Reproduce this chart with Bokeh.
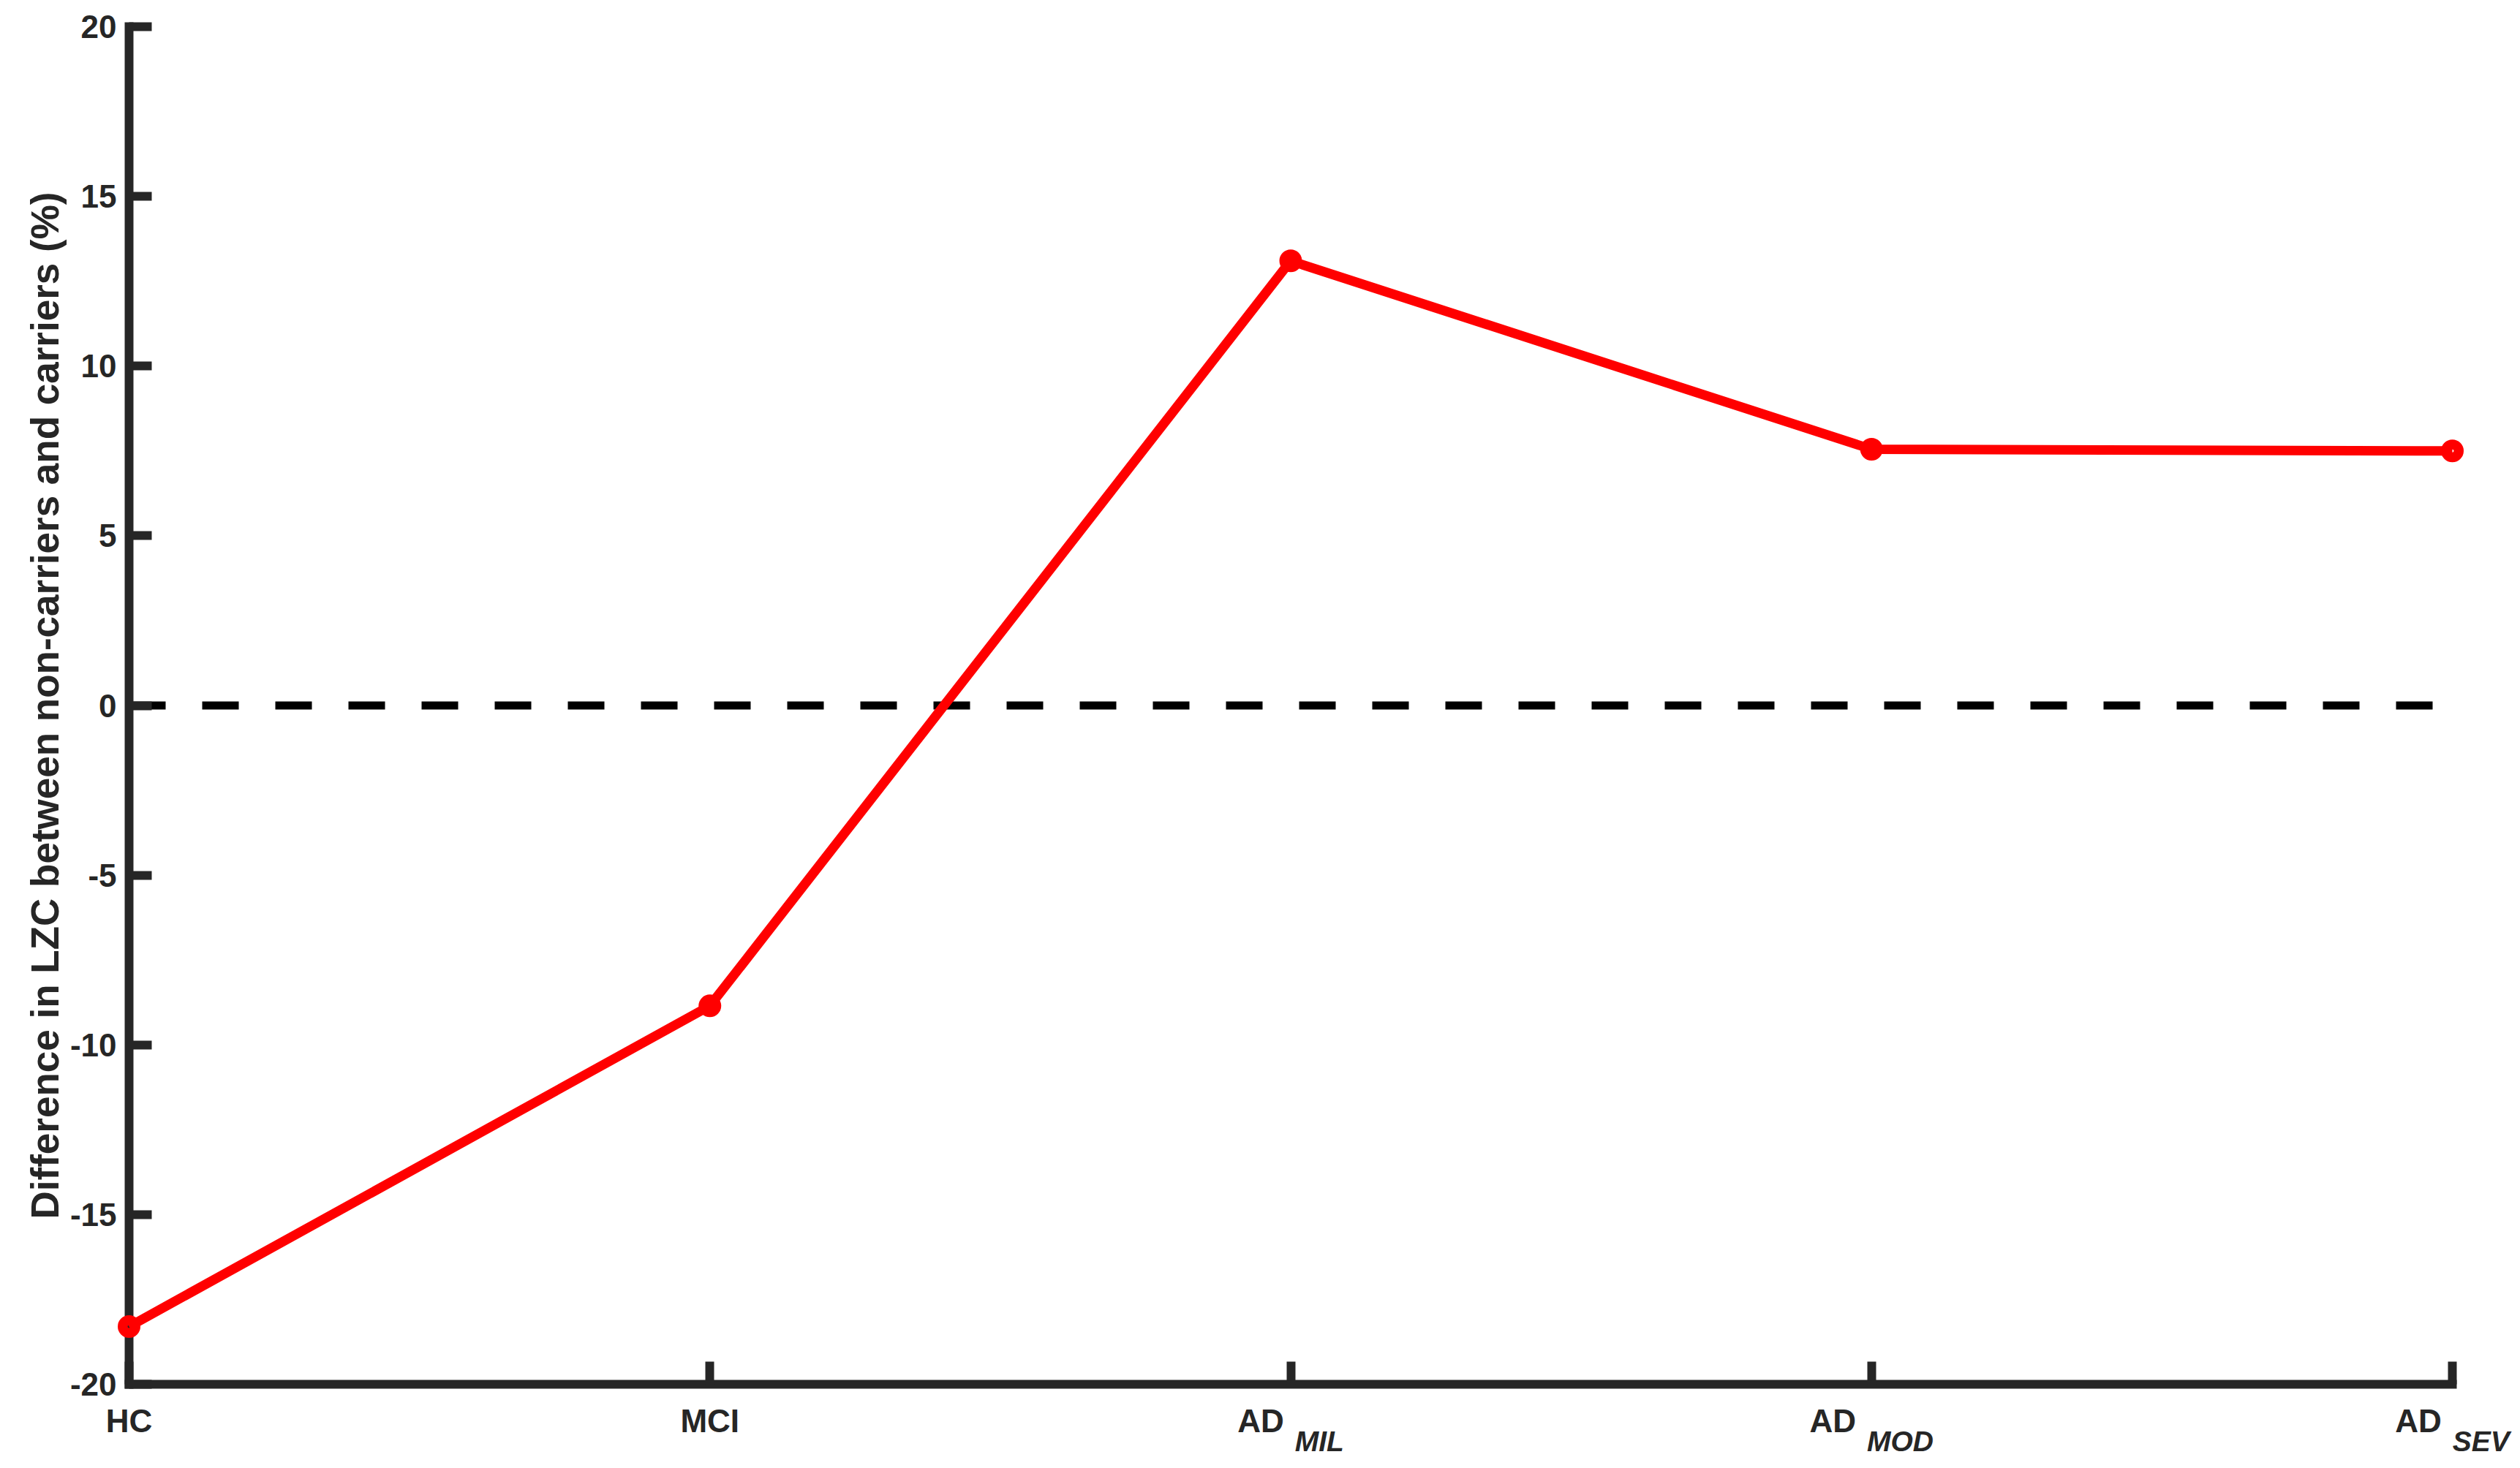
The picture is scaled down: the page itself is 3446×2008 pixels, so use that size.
from bokeh.plotting import figure
from bokeh.models import Range1d, FixedTicker, LinearAxis, ColumnDataSource
from bokeh.embed import file_html
from bokeh.resources import INLINE

# ---- data ----
groups = ["HC", "MCI", "AD_MIL", "AD_MOD", "AD_SEV"]
label_main = ["HC", "MCI", "AD", "AD", "AD"]
label_sub = ["", "", "MIL", "MOD", "SEV"]
diff_pct = [-18.3, -8.85, 13.1, 7.55, 7.5]
y_ticks = [-20, -15, -10, -5, 0, 5, 10, 15, 20]
zero_level = 0
y_label = "Difference in LZC between non-carriers and carriers (%)"

AX = "#262626"
RED = "#FF0000"
FONT = "Liberation Sans"

W_FIG, H_FIG = 3446, 2008
B_LEFT, B_RIGHT, B_TOP, B_BOTTOM = 176, 10, 36, 115
FRAME_W = W_FIG - B_LEFT - B_RIGHT
DATA_W = 3177  # pixel span from first to last category
PAD_PX = FRAME_W - DATA_W

xs = list(range(len(groups)))
span_x = xs[-1] - xs[0]
UNIT_PX = DATA_W / span_x
src = ColumnDataSource(dict(x=xs, y=diff_pct))

p = figure(width=W_FIG, height=H_FIG, output_backend="svg", toolbar_location=None,
           x_range=Range1d(xs[0], xs[-1] + PAD_PX / UNIT_PX),
           y_range=Range1d(y_ticks[0], y_ticks[-1]),
           min_border_left=B_LEFT, min_border_right=B_RIGHT,
           min_border_top=B_TOP, min_border_bottom=B_BOTTOM)
p.outline_line_color = None
p.xgrid.visible = False
p.ygrid.visible = False

for ax in (p.xaxis[0], p.yaxis[0]):
    ax.axis_line_color = AX
    ax.axis_line_width = 12
    ax.axis_line_cap = "square"
    ax.major_tick_line_color = AX
    ax.major_tick_line_width = 12
    ax.major_tick_in = 31
    ax.major_tick_out = 0
    ax.minor_tick_line_color = None
    ax.major_label_text_font = FONT
    ax.major_label_text_font_style = "bold"
    ax.major_label_text_font_size = "44px"
    ax.major_label_text_color = AX

p.yaxis.ticker = FixedTicker(ticks=y_ticks)
p.yaxis.major_label_overrides = {v: str(v) for v in y_ticks}
p.yaxis.major_label_standoff = 17
p.yaxis.axis_label = y_label
p.yaxis.axis_label_text_font = FONT
p.yaxis.axis_label_text_font_style = "bold"
p.yaxis.axis_label_text_font_size = "53px"
p.yaxis.axis_label_text_color = AX
p.yaxis.axis_label_standoff = 2

# bottom axis: line and ticks only, ending at the last category
p.xaxis.bounds = (xs[0], xs[-1])
p.xaxis.ticker = FixedTicker(ticks=xs)
p.xaxis.major_label_overrides = {i: "" for i in xs}
p.xaxis.major_label_text_font_size = "0px"
p.xaxis.major_label_standoff = 0

# zero reference line across the categories
p.line(x=[xs[0], xs[-1]], y=[zero_level, zero_level], line_color="black",
       line_width=11, line_dash="50 50", line_cap="butt")

p.line("x", "y", source=src, line_color=RED, line_width=13, level="overlay")
p.scatter("x", "y", source=src, size=17.5, line_width=13.5, line_color=RED,
          fill_color=None, marker="circle", level="overlay")

# ---- category labels with subscripts (two label rows as extra axes) ----
W = {"A": 0.722, "D": 0.722, "H": 0.722, "C": 0.722, "M": 0.833, "I": 0.278,
     "L": 0.611, "O": 0.778, "S": 0.667, "E": 0.667, "V": 0.667}
MAIN_SZ, SUB_SZ, GAP = 44, 39, 15


def tw(s, sz):
    return sum(W.get(c, 0.6) for c in s) * sz


def shift(x, off_px):
    return round(x + off_px / UNIT_PX, 5)


main_pos, main_txt, sub_pos, sub_txt = [], [], [], []
for x, m, s in zip(xs, label_main, label_sub):
    if s:
        wm, ws = tw(m, MAIN_SZ), tw(s, SUB_SZ)
        main_pos.append(shift(x, -(GAP + ws) / 2))
        sub_pos.append(shift(x, (wm + GAP) / 2))
        sub_txt.append(s)
    else:
        main_pos.append(shift(x, 0))
    main_txt.append(m)


def label_axis(pos, txt, size, style, standoff):
    a = LinearAxis(ticker=FixedTicker(ticks=pos),
                   major_label_overrides=dict(zip(pos, txt)))
    a.axis_line_color = None
    a.major_tick_line_color = None
    a.minor_tick_line_color = None
    a.major_tick_in = 0
    a.major_tick_out = 0
    a.major_label_standoff = standoff
    a.major_label_text_font = FONT
    a.major_label_text_font_style = style
    a.major_label_text_font_size = f"{size}px"
    a.major_label_text_color = AX
    return a


p.add_layout(label_axis(main_pos, main_txt, MAIN_SZ, "bold", 25), "below")
p.add_layout(label_axis(sub_pos, sub_txt, SUB_SZ, "bold italic", -21), "below")

open("out.html", "w").write(file_html(p, INLINE))
